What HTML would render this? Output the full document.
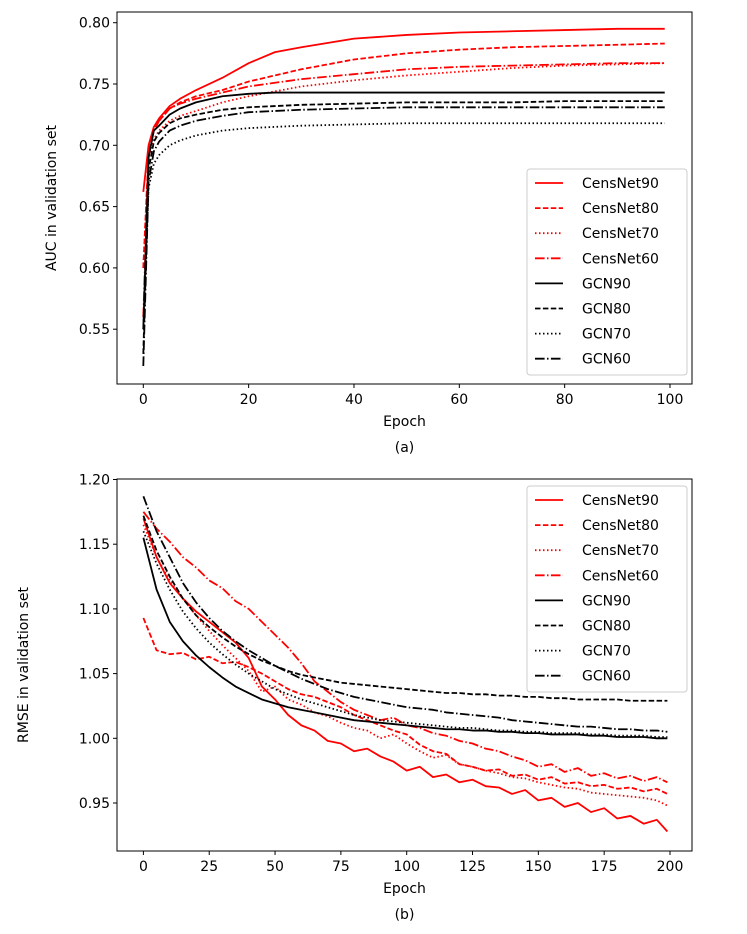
<!DOCTYPE html>
<html><head><meta charset="utf-8"><style>
html,body{margin:0;padding:0;background:#fff;}
svg{display:block;font-family:"DejaVu Sans","Liberation Sans",sans-serif;}
</style></head><body>
<svg id="fig" width="747" height="934" viewBox="0 0 747 934"></svg>
<script>
// ---- Chart (a) data ----
const aEpochs = [0,1,2,3,5,7,10,15,20,25,30,40,50,60,70,80,90,99];
const aCens90 = [0.662,0.700,0.715,0.722,0.732,0.738,0.745,0.755,0.767,0.776,0.780,0.787,0.790,0.792,0.793,0.794,0.795,0.795];
const aCens80 = [0.600,0.695,0.712,0.720,0.730,0.735,0.740,0.745,0.752,0.757,0.762,0.770,0.775,0.778,0.780,0.781,0.782,0.783];
const aCens70 = [0.600,0.690,0.705,0.712,0.720,0.724,0.728,0.735,0.740,0.744,0.748,0.753,0.757,0.760,0.763,0.765,0.766,0.767];
const aCens60 = [0.560,0.695,0.712,0.720,0.730,0.734,0.738,0.743,0.748,0.751,0.754,0.758,0.762,0.764,0.765,0.766,0.767,0.767];
const aGcn90 = [0.550,0.690,0.712,0.716,0.725,0.730,0.735,0.740,0.742,0.743,0.743,0.743,0.743,0.743,0.743,0.743,0.743,0.743];
const aGcn80 = [0.530,0.680,0.703,0.710,0.718,0.722,0.725,0.729,0.731,0.732,0.733,0.734,0.735,0.735,0.735,0.736,0.736,0.736];
const aGcn70 = [0.550,0.665,0.685,0.692,0.700,0.704,0.708,0.712,0.714,0.715,0.716,0.717,0.718,0.718,0.718,0.718,0.718,0.718];
const aGcn60 = [0.520,0.670,0.695,0.703,0.712,0.716,0.720,0.724,0.727,0.728,0.729,0.730,0.731,0.731,0.731,0.731,0.731,0.731];
const aXTicks = [0,20,40,60,80,100];
const aYTicks = [0.55,0.60,0.65,0.70,0.75,0.80];

// ---- Chart (b) data ----
const bEpochs = [0,5,10,15,20,25,30,35,40,45,50,55,60,65,70,75,80,85,90,95,100,105,110,115,120,125,130,135,140,145,150,155,160,165,170,175,180,185,190,195,199];
const bCens90 = [1.170,1.140,1.120,1.108,1.098,1.090,1.082,1.074,1.062,1.040,1.030,1.018,1.010,1.006,0.998,0.996,0.990,0.992,0.986,0.982,0.975,0.978,0.970,0.972,0.966,0.968,0.963,0.962,0.957,0.960,0.952,0.954,0.947,0.950,0.943,0.946,0.938,0.940,0.934,0.937,0.928];
const bCens80 = [1.093,1.068,1.065,1.066,1.061,1.063,1.058,1.059,1.055,1.050,1.044,1.038,1.034,1.032,1.028,1.024,1.018,1.014,1.010,1.006,1.003,0.995,0.990,0.988,0.980,0.978,0.975,0.976,0.971,0.972,0.968,0.970,0.965,0.966,0.963,0.964,0.961,0.962,0.959,0.961,0.957];
const bCens70 = [1.165,1.140,1.122,1.108,1.095,1.083,1.072,1.062,1.052,1.036,1.040,1.030,1.026,1.020,1.017,1.012,1.008,1.006,1.000,1.003,0.996,0.990,0.985,0.987,0.980,0.978,0.975,0.973,0.970,0.969,0.966,0.964,0.962,0.961,0.958,0.957,0.956,0.955,0.954,0.952,0.948];
const bCens60 = [1.175,1.162,1.152,1.140,1.132,1.122,1.116,1.106,1.100,1.090,1.080,1.070,1.058,1.044,1.036,1.028,1.022,1.018,1.014,1.016,1.010,1.008,1.004,1.002,0.998,0.996,0.992,0.990,0.986,0.983,0.978,0.980,0.974,0.977,0.971,0.973,0.969,0.971,0.967,0.970,0.966];
const bGcn90 = [1.155,1.115,1.090,1.075,1.064,1.055,1.047,1.040,1.035,1.030,1.027,1.024,1.022,1.020,1.018,1.016,1.014,1.013,1.012,1.011,1.010,1.009,1.008,1.007,1.007,1.006,1.006,1.005,1.005,1.004,1.004,1.003,1.003,1.003,1.002,1.002,1.001,1.001,1.001,1.000,1.000];
const bGcn80 = [1.172,1.145,1.125,1.108,1.095,1.086,1.078,1.071,1.065,1.060,1.056,1.052,1.049,1.047,1.045,1.043,1.042,1.041,1.040,1.039,1.038,1.037,1.036,1.035,1.035,1.034,1.034,1.033,1.033,1.032,1.032,1.031,1.031,1.030,1.030,1.030,1.030,1.029,1.029,1.029,1.029];
const bGcn70 = [1.160,1.135,1.115,1.098,1.085,1.074,1.065,1.057,1.050,1.044,1.038,1.034,1.030,1.027,1.024,1.021,1.018,1.016,1.014,1.013,1.012,1.011,1.010,1.009,1.008,1.008,1.007,1.006,1.006,1.005,1.005,1.004,1.004,1.004,1.003,1.003,1.002,1.002,1.002,1.001,1.001];
const bGcn60 = [1.187,1.160,1.140,1.120,1.105,1.093,1.083,1.075,1.068,1.062,1.056,1.051,1.046,1.042,1.038,1.035,1.032,1.030,1.028,1.026,1.024,1.023,1.022,1.020,1.019,1.018,1.017,1.016,1.014,1.013,1.012,1.011,1.010,1.009,1.009,1.008,1.007,1.007,1.006,1.006,1.005];
const bXTicks = [0,25,50,75,100,125,150,175,200];
const bYTicks = [0.95,1.00,1.05,1.10,1.15,1.20];

const legendLabels = ["CensNet90","CensNet80","CensNet70","CensNet60","GCN90","GCN80","GCN70","GCN60"];

const NS = "http://www.w3.org/2000/svg";
const svg = document.getElementById('fig');
function mk(tag, attrs, parent){ const e=document.createElementNS(NS,tag); for(const k in attrs) e.setAttribute(k,attrs[k]); (parent||svg).appendChild(e); return e; }

const styles = [
 {c:'#ff0000',d:''},{c:'#ff0000',d:'5.5,2.4'},{c:'#ff0000',d:'1.5,2.5'},{c:'#ff0000',d:'9.6,2.4,1.5,2.4'},
 {c:'#000000',d:''},{c:'#000000',d:'5.5,2.4'},{c:'#000000',d:'1.5,2.5'},{c:'#000000',d:'9.6,2.4,1.5,2.4'}
];

function drawChart(o){
  const g = mk('g',{});
  
  
  const L=117,R=692,T=o.top,B=o.bottom;
  const xs = v => o.x0 + (v - 0)*(o.x1 - o.x0)/o.xmax;
  const ys = v => o.yRef - (v - o.vRef)*o.yPer;
  o.series.forEach((s,i)=>{
    const pts = o.epochs.map((e,j)=>xs(e).toFixed(2)+','+ys(s[j]).toFixed(2)).join(' ');
    const p = mk('polyline',{points:pts,fill:'none',stroke:styles[i].c,'stroke-width':1.8,'stroke-dasharray':styles[i].d,'stroke-linejoin':'round'},g);
    
    
  });
  const fr = mk('rect',{x:L,y:T,width:R-L,height:B-T,fill:'none',stroke:'#000','stroke-width':1},g);
  
  
  o.xTicks.forEach(t=>{
    const x=xs(t);
    mk('line',{x1:x,x2:x,y1:B,y2:B+4,stroke:'#000','stroke-width':1},g);
    const tx=mk('text',{x:x,y:B+20,'text-anchor':'middle','font-size':14,fill:'#000'},g);
    tx.textContent=t;
    
    
  });
  o.yTicks.forEach(t=>{
    const y=ys(t);
    mk('line',{x1:L-4,x2:L,y1:y,y2:y,stroke:'#000','stroke-width':1},g);
    const tx=mk('text',{x:L-7,y:y+5,'text-anchor':'end','font-size':14,fill:'#000'},g);
    tx.textContent=t.toFixed(2);
    
    
  });
  const xl=mk('text',{x:(L+R)/2,y:B+42,'text-anchor':'middle','font-size':14},g);
  xl.textContent='Epoch';
  
  
  const cap=mk('text',{x:(L+R)/2,y:B+68,'text-anchor':'middle','font-size':14},g);
  cap.textContent=o.caption;
  
  
  const yl=mk('text',{x:0,y:0,'text-anchor':'middle','font-size':14,transform:`translate(${o.ylx},${(T+B)/2}) rotate(-90)`},g);
  yl.textContent=o.ylabel;
  
  
  const lg=mk('g',{},g);
  
  
  mk('rect',{x:527,y:o.legTop,width:160,height:206,rx:3,fill:'#fff','fill-opacity':0.8,stroke:'#ccc','stroke-width':1},lg);
  legendLabels.forEach((lab,i)=>{
    const y=o.legTop+14+i*25.1;
    mk('line',{x1:535,x2:563,y1:y,y2:y,stroke:styles[i].c,'stroke-width':1.8,'stroke-dasharray':styles[i].d},lg);
    const t=mk('text',{x:582,y:y+5,'font-size':14},lg);
    t.textContent=lab;
    
    
  });
}

drawChart({name:'auc-chart',top:12,bottom:384,x0:143.3,x1:670,xmax:100,yRef:22.7,vRef:0.80,yPer:1226,
  epochs:aEpochs,series:[aCens90,aCens80,aCens70,aCens60,aGcn90,aGcn80,aGcn70,aGcn60],
  xTicks:aXTicks,yTicks:aYTicks,caption:'(a)',ylabel:'AUC in validation set',ylx:56,legTop:169});
drawChart({name:'rmse-chart',top:479,bottom:851,x0:143.4,x1:670,xmax:200,yRef:738.3,vRef:1.00,yPer:1294,
  epochs:bEpochs,series:[bCens90,bCens80,bCens70,bCens60,bGcn90,bGcn80,bGcn70,bGcn60],
  xTicks:bXTicks,yTicks:bYTicks,caption:'(b)',ylabel:'RMSE in validation set',ylx:28,legTop:486});
</script>
</body></html>
